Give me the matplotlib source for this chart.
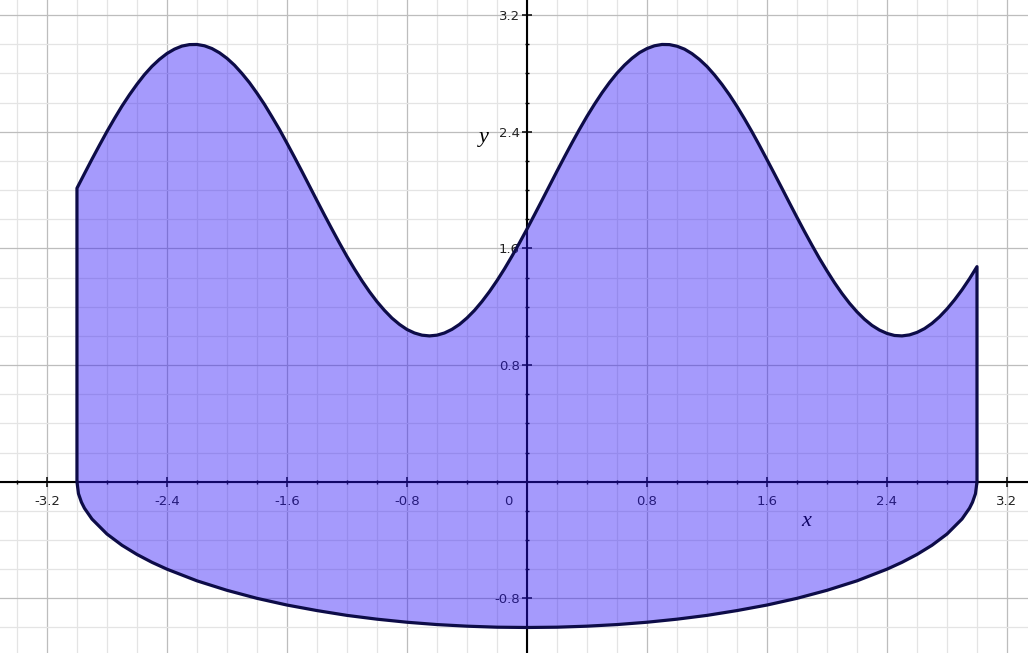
import numpy as np
import matplotlib
matplotlib.use('Agg')
import matplotlib.pyplot as plt
from matplotlib.ticker import MultipleLocator
import matplotlib.transforms as mtransforms

# upper boundary, every 0.05
top_x = [-3.0, -2.95, -2.9, -2.85, -2.8, -2.75, -2.7, -2.65, -2.6, -2.55,
         -2.5, -2.45, -2.4, -2.35, -2.3, -2.25, -2.2, -2.15, -2.1, -2.05,
         -2.0, -1.95, -1.9, -1.85, -1.8, -1.75, -1.7, -1.65, -1.6, -1.55,
         -1.5, -1.45, -1.4, -1.35, -1.3, -1.25, -1.2, -1.15, -1.1, -1.05,
         -1.0, -0.95, -0.9, -0.85, -0.8, -0.75, -0.7, -0.65, -0.6, -0.55,
         -0.5, -0.45, -0.4, -0.35, -0.3, -0.25, -0.2, -0.15, -0.1, -0.05,
         0.0, 0.05, 0.1, 0.15, 0.2, 0.25, 0.3, 0.35, 0.4, 0.45,
         0.5, 0.55, 0.6, 0.65, 0.7, 0.75, 0.8, 0.85, 0.9, 0.95,
         1.0, 1.05, 1.1, 1.15, 1.2, 1.25, 1.3, 1.35, 1.4, 1.45,
         1.5, 1.55, 1.6, 1.65, 1.7, 1.75, 1.8, 1.85, 1.9, 1.95,
         2.0, 2.05, 2.1, 2.15, 2.2, 2.25, 2.3, 2.35, 2.4, 2.45,
         2.5, 2.55, 2.6, 2.65, 2.7, 2.75, 2.8, 2.85, 2.9, 2.95, 3.0]
top_y = [2.013, 2.113, 2.212, 2.308, 2.402, 2.491, 2.576, 2.654, 2.726, 2.792,
         2.849, 2.897, 2.937, 2.967, 2.988, 2.998, 2.999, 2.990, 2.971, 2.942,
         2.904, 2.857, 2.800, 2.737, 2.665, 2.588, 2.503, 2.416, 2.322, 2.226,
         2.128, 2.028, 1.928, 1.829, 1.732, 1.637, 1.545, 1.459, 1.378, 1.303,
         1.235, 1.175, 1.122, 1.079, 1.044, 1.020, 1.005, 1.000, 1.005, 1.020,
         1.045, 1.079, 1.123, 1.175, 1.236, 1.304, 1.379, 1.460, 1.547, 1.638,
         1.733, 1.831, 1.930, 2.030, 2.130, 2.228, 2.324, 2.417, 2.506, 2.589,
         2.667, 2.738, 2.802, 2.857, 2.904, 2.943, 2.971, 2.990, 2.999, 2.998,
         2.987, 2.967, 2.936, 2.896, 2.848, 2.790, 2.725, 2.653, 2.574, 2.489,
         2.400, 2.306, 2.209, 2.111, 2.012, 1.912, 1.813, 1.716, 1.622, 1.531,
         1.446, 1.365, 1.291, 1.224, 1.165, 1.114, 1.072, 1.040, 1.017, 1.003,
         1.000, 1.007, 1.024, 1.050, 1.086, 1.131, 1.185, 1.247, 1.316, 1.392, 1.475]

# lower boundary
bot_x = [-3.0, -2.99, -2.97, -2.95, -2.9, -2.8, -2.7, -2.6, -2.5, -2.4,
         -2.2, -2.0, -1.8, -1.6, -1.4, -1.2, -1.0, -0.8, -0.6, -0.4, -0.2,
         0.0, 0.2, 0.4, 0.6, 0.8, 1.0, 1.2, 1.4, 1.6, 1.8, 2.0, 2.2,
         2.4, 2.5, 2.6, 2.7, 2.8, 2.9, 2.95, 2.97, 2.99, 3.0]
bot_y = [0.0, -0.082, -0.141, -0.182, -0.256, -0.359, -0.436, -0.499, -0.553, -0.600,
         -0.680, -0.745, -0.800, -0.846, -0.884, -0.917, -0.943, -0.964, -0.980, -0.991, -0.998,
         -1.0, -0.998, -0.991, -0.980, -0.964, -0.943, -0.917, -0.884, -0.846, -0.800, -0.745, -0.680,
         -0.600, -0.553, -0.499, -0.436, -0.359, -0.256, -0.182, -0.141, -0.082, 0.0]

fig = plt.figure(figsize=(10.28, 6.53), dpi=100)
ax = fig.add_axes([0, 0, 1, 1])
ax.set_xlim(-3.513, 3.34)
ax.set_ylim(-1.175, 3.304)

# grid
ax.xaxis.set_major_locator(MultipleLocator(0.8))
ax.yaxis.set_major_locator(MultipleLocator(0.8))
ax.xaxis.set_minor_locator(MultipleLocator(0.2))
ax.yaxis.set_minor_locator(MultipleLocator(0.2))
ax.grid(True, which='major', color='#bdbdbd', lw=0.9)
ax.grid(True, which='minor', color='#e4e4e4', lw=0.9)
ax.set_axisbelow(True)

# axes through origin
for s in ['top', 'right']:
    ax.spines[s].set_visible(False)
ax.spines['left'].set_position('zero')
ax.spines['bottom'].set_position('zero')
for s in ['left', 'bottom']:
    ax.spines[s].set_linewidth(1.5)
    ax.spines[s].set_color('black')

ax.tick_params(which='major', direction='inout', length=6.5, width=1.1,
               labelsize=9.5, labelcolor='#222222')
ax.tick_params(which='minor', direction='inout', length=3, width=1.0)
ax.tick_params(axis='x', which='major', pad=6)
ax.tick_params(axis='y', which='major', pad=2)

xt = [-3.2, -2.4, -1.6, -0.8, 0.0, 0.8, 1.6, 2.4, 3.2]
yt = [-0.8, 0.0, 0.8, 1.6, 2.4, 3.2]
ax.set_xticks(xt)
ax.set_xticklabels(['-3.2', '-2.4', '-1.6', '-0.8', '0', '0.8', '1.6', '2.4', '3.2'])
ax.set_yticks(yt)
ax.set_yticklabels(['-0.8', '', '0.8', '1.6', '2.4', '3.2'])

# move "0" to the left of the vertical axis
lab0 = ax.get_xticklabels()[4]
lab0.set_transform(lab0.get_transform() +
                   mtransforms.ScaledTranslation(-0.19, 0, fig.dpi_scale_trans))

ax.text(1.86, -0.27, 'x', fontsize=16, style='italic', family='Liberation Serif',
        ha='center', va='center')
ax.text(-0.29, 2.36, 'y', fontsize=16, style='italic', family='Liberation Serif',
        ha='center', va='center')

# region
px = top_x + bot_x[::-1]
py = top_y + bot_y[::-1]
ax.fill(px, py, facecolor='#2a10f8', alpha=0.42, edgecolor='none', zorder=3)
ax.fill(px, py, facecolor='none', edgecolor='#0d0c48', lw=2.3,
        joinstyle='round', zorder=4)

plt.savefig('out.png', dpi=100)
